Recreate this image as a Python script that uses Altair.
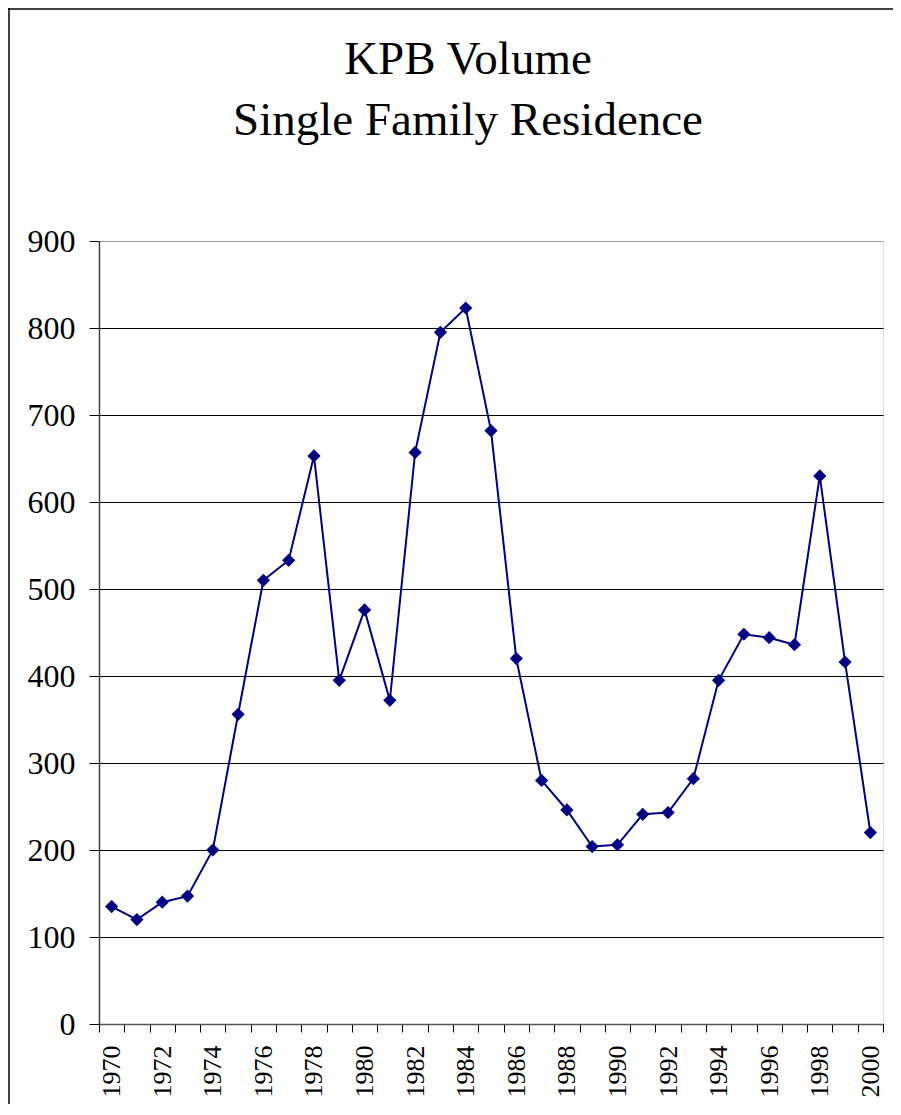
import altair as alt
import pandas as pd

years = list(range(1970, 2001))
volumes = [135, 120, 140, 147, 200, 356, 510, 533, 653, 395,
           476, 372, 657, 795, 823, 682, 420, 280, 246, 204,
           206, 241, 243, 282, 395, 448, 444, 436, 630, 416, 220]
y_ticks = [0, 100, 200, 300, 400, 500, 600, 700, 800, 900]
title_lines = ["KPB Volume", "Single Family Residence"]

df = pd.DataFrame({"Year": years, "Volume": volumes})

W, H = 784, 783
SERIF = "Liberation Serif"

base = alt.Chart(df).encode(
    x=alt.X(
        "Year:O",
        title=None,
        scale=alt.Scale(paddingInner=0, paddingOuter=0),
        axis=alt.Axis(
            tickBand="extent",
            tickSize=8,
            tickColor="black",
            labelAngle=-90,
            labelPadding=13,
            labelFont=SERIF,
            labelFontSize=26,
            labelColor="black",
            labelExpr="datum.value % 2 == 0 ? datum.label : ''",
            domainColor="#555555",
            domainWidth=1.5,
            grid=False,
        ),
    ),
    y=alt.Y(
        "Volume:Q",
        title=None,
        scale=alt.Scale(domain=[0, 900], nice=False),
        axis=alt.Axis(
            values=y_ticks,
            tickSize=10,
            tickColor="black",
            labelPadding=14,
            labelFont=SERIF,
            labelFontSize=32,
            labelColor="black",
            domainColor="#404040",
            domainWidth=1.5,
            grid=True,
            gridColor={"condition": {"test": "datum.value == 900", "value": "#999999"}, "value": "black"},
            gridWidth=1,
        ),
    ),
)

line = base.mark_line(color="#000080", strokeWidth=2)
points = base.mark_point(shape="diamond", size=175, filled=True, color="#000080", opacity=1)

frame_data = alt.Data(values=[{"k": 0}])
frame_left = alt.Chart(frame_data).mark_rule(color="black", strokeWidth=1.5).encode(
    x=alt.value(-90), y=alt.value(-233), y2=alt.value(H + 80)
)
frame_top = alt.Chart(frame_data).mark_rule(color="black", strokeWidth=1.5).encode(
    y=alt.value(-232), x=alt.value(-91), x2=alt.value(W + 10)
)

chart = alt.layer(line, points, frame_left, frame_top).properties(
    width=W,
    height=H,
    title=alt.TitleParams(
        text=title_lines,
        font=SERIF,
        fontSize=47,
        fontWeight="normal",
        lineHeight=61,
        color="black",
        anchor="middle",
        dx=-23,
        offset=-138,
    ),
    autosize=alt.AutoSizeParams(type="none"),
    padding={"left": 91, "top": 233, "right": 10, "bottom": 80},
).configure_view(
    stroke="#999999", strokeWidth=2
).configure(background="white")

chart.save("out.html", embed_options={"renderer": "svg", "actions": False})
